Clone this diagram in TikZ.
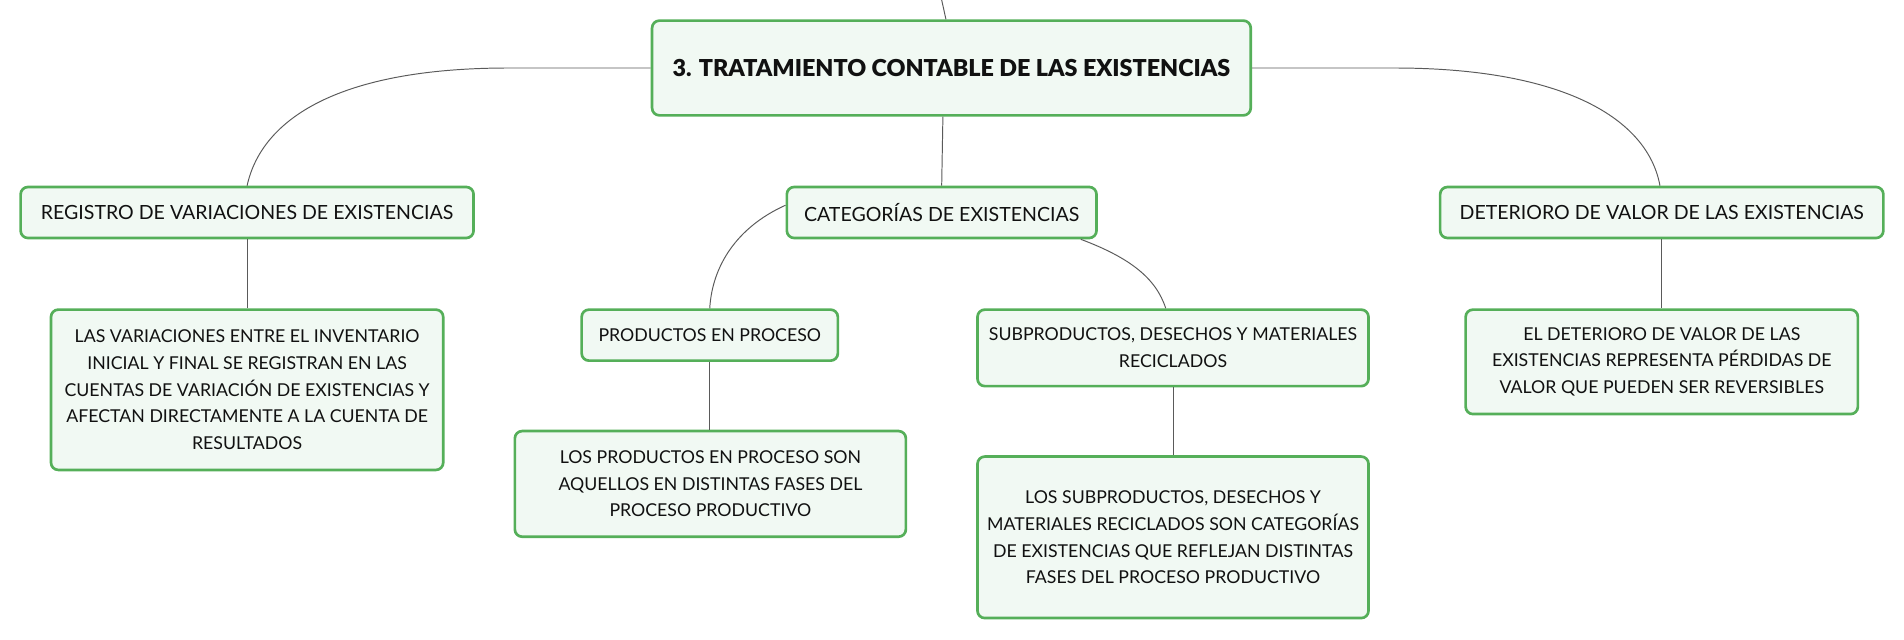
\documentclass[tikz,border=0pt]{standalone}
\usepackage{fontspec}
\setmainfont{Lato}
\newfontfamily\titlefont{Lato Black}
\usetikzlibrary{calc}
\definecolor{boxgreen}{HTML}{55AF59}
\definecolor{boxfill}{HTML}{F1F9F3}
\definecolor{linkgray}{HTML}{5A5A5A}
\definecolor{txt}{HTML}{111111}
\tikzset{
  box/.style={draw=boxgreen, line width=2.2pt, fill=boxfill, rounded corners=6pt,
    align=center, inner sep=0pt, text=txt, font=\fontsize{14.6}{22}\selectfont},
  midbox/.style={box, font=\fontsize{16.1}{22}\selectfont},
  titlebox/.style={box, font=\fontsize{19.2}{24}\selectfont\titlefont},
  link/.style={draw=linkgray, line width=0.8pt}
}
\begin{document}
\begin{tikzpicture}[x=1pt,y=-1pt]
\useasboundingbox (0,0) rectangle (1568,527);
\node[titlebox, minimum width=493pt, minimum height=78pt] (title) at (783.5,56) {3. TRATAMIENTO CONTABLE DE LAS EXISTENCIAS};
\node[midbox, minimum width=373pt, minimum height=42pt] (reg) at (203.5,175) {REGISTRO DE VARIACIONES DE EXISTENCIAS};
\node[midbox, minimum width=255pt, minimum height=42pt] (cat) at (775.5,175) {CATEGORÍAS DE EXISTENCIAS};
\node[midbox, minimum width=365pt, minimum height=42pt] (det) at (1368.5,175) {DETERIORO DE VALOR DE LAS EXISTENCIAS};
\node[box, minimum width=323pt, minimum height=132pt] (var) at (203.5,321) {LAS VARIACIONES ENTRE EL INVENTARIO\\INICIAL Y FINAL SE REGISTRAN EN LAS\\CUENTAS DE VARIACIÓN DE EXISTENCIAS Y\\AFECTAN DIRECTAMENTE A LA CUENTA DE\\RESULTADOS};
\node[box, minimum width=211pt, minimum height=42pt] (prod) at (584.5,276) {PRODUCTOS EN PROCESO};
\node[box, minimum width=322pt, minimum height=63pt] (sub) at (966,286.5) {SUBPRODUCTOS, DESECHOS Y MATERIALES\\RECICLADOS};
\node[box, minimum width=322pt, minimum height=87pt] (prodtxt) at (585,398.5) {LOS PRODUCTOS EN PROCESO SON\\AQUELLOS EN DISTINTAS FASES DEL\\PROCESO PRODUCTIVO};
\node[box, minimum width=322pt, minimum height=133pt] (subtxt) at (966,442.5) {LOS SUBPRODUCTOS, DESECHOS Y\\MATERIALES RECICLADOS SON CATEGORÍAS\\DE EXISTENCIAS QUE REFLEJAN DISTINTAS\\FASES DEL PROCESO PRODUCTIVO};
\node[box, minimum width=323pt, minimum height=86pt] (dettxt) at (1368.5,298) {EL DETERIORO DE VALOR DE LAS\\EXISTENCIAS REPRESENTA PÉRDIDAS DE\\VALOR QUE PUEDEN SER REVERSIBLES};
\coordinate (topc) at (775.5,0);
\draw[link] (topc) -- ([xshift=-4.5pt]title.north);
\draw[link] (title.west) -- ++(-117,0) .. controls +(-140,0) and +(12,-55) .. (reg.north);
\draw[link] (title.east) -- ++(117,0) .. controls +(140,0) and +(-10,-55) .. ([xshift=-1.5pt]det.north);
\draw[link] ([xshift=-7pt]title.south) -- (cat.north);
\draw[link] ([yshift=6pt]cat.west) .. controls +(-40,18) and +(2,-35) .. (prod.north);
\draw[link] ([xshift=-14pt]cat.south east) .. controls +(40,15) and +(-8,-25) .. ([xshift=-6pt]sub.north);
\draw[link] (reg.south) -- (var.north);
\draw[link] (prod.south) -- (prod.south |- prodtxt.north);
\draw[link] (sub.south) -- (subtxt.north);
\draw[link] (det.south) -- (dettxt.north);
\end{tikzpicture}
\end{document}
